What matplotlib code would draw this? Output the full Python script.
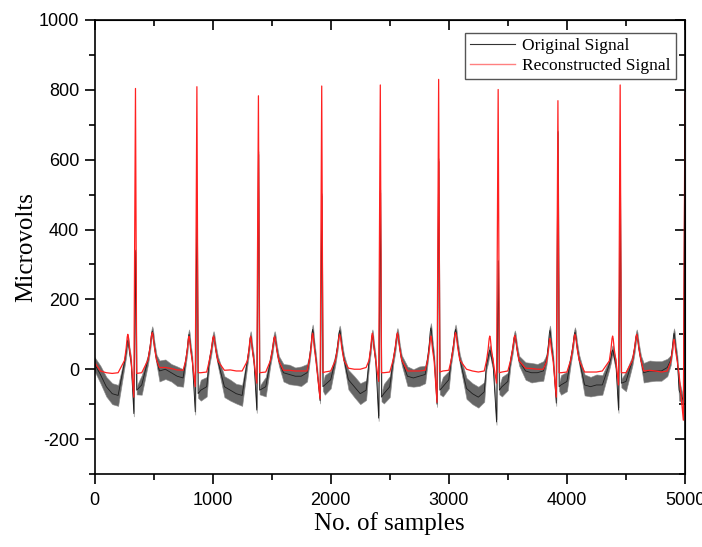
import numpy as np
import matplotlib.pyplot as plt
from matplotlib.lines import Line2D
from matplotlib.ticker import MultipleLocator

plt.rcParams['axes.unicode_minus'] = False

# ECG beats (sample index of each wave and its height in microvolts)
p_pos = [282, 800, 1322, 1847, 2353, 2848, 3347, 3856, 4387, 4907]
r_pos = [347, 867, 1388, 1924, 2420, 2914, 3418, 3924, 4451, 5000]
t_pos = [489, 1008, 1525, 2076, 2565, 3057, 3559, 4068, 4591]

red_p = [100, 94, 94, 103, 103, 95, 95, 88, 95, 85]
red_q = [-80, -50, -40, -85, -35, -95, -40, -80, -45, -146]
red_r = [804, 809, 783, 811, 814, 830, 801, 769, 814, 790]
red_s = [-12, -10, -10, -10, -10, -8, -10, -10, -10]
red_t = [105, 95, 94, 100, 104, 105, 97, 100, 100]

black_p = [83, 100, 95, 114, 100, 118, 55, 111, 55, 103]
black_q = [-127, -122, -117, -90, -140, -100, -151, -97, -117, -90]
black_r = [340, 480, 620, 500, 510, 600, 310, 680, 500, 790]
black_s = [-60, -70, -60, -50, -80, -60, -60, -50, -40]
black_t = [109, 95, 95, 111, 104, 114, 97, 106, 100]

# baseline between the waves, every 50 samples
base_x = np.arange(0, 5001, 50)
black_base = [15, -15, -50, -70, -75, -55, -40, -60, -45, -30,
              -20, -5, 0, -10, -20, -25, -30, -50, -60, -50,
              -40, -45, -50, -60, -70, -75, -60, -50, -50, -50,
              -20, -10, -10, -15, -20, -20, -10, -20, -40, -45,
              -30, -20, -20, -30, -50, -70, -60, -60, -60, -70,
              -50, -30, -25, -20, -25, -20, -15, -20, -40, -50,
              -30, -40, -45, -55, -70, -80, -65, -60, -60, -50,
              -35, -20, -10, -5, -10, -10, -5, -20, -40, -45,
              -35, -30, -40, -45, -50, -45, -45, -30, -30, -30,
              -35, -15, -10, -10, -5, -5, -5, 5, 0, -60, 0]
# half-width of the noise on the original signal at the same samples
black_spread = [20, 25, 28, 30, 30, 25, 25, 25, 28, 25,
                28, 30, 28, 25, 28, 25, 25, 25, 30, 28,
                25, 28, 30, 30, 28, 30, 25, 25, 25, 28,
                25, 28, 25, 28, 25, 28, 25, 25, 28, 28,
                25, 25, 25, 28, 30, 30, 28, 25, 25, 28,
                30, 25, 25, 28, 25, 28, 25, 25, 28, 28,
                25, 25, 28, 30, 30, 30, 28, 25, 25, 28,
                25, 28, 28, 25, 28, 25, 28, 25, 25, 28,
                28, 25, 28, 30, 28, 30, 28, 25, 25, 25,
                28, 28, 30, 28, 30, 28, 28, 25, 25, 30, 10]
red_base = [20, -5, -10, -12, -10, -5, -5, -10, -10, -8,
            0, 5, 5, 2, -2, -3, -5, -10, -10, -8,
            -5, -5, -3, -2, -5, -5, -5, -8, -8, -8,
            -5, -5, -3, -3, -5, -5, -5, -8, -8, -8,
            -5, -5, -5, 3, 0, 0, 5, -10, -10, -10,
            -8, -8, -8, -5, -5, -5, -3, -5, -5, -5,
            -3, -3, -3, 0, -5, -8, -5, -8, -8, -8,
            -5, -5, -5, 3, 2, 0, 0, -10, -10, -10,
            -8, -8, -8, -8, -8, -8, -5, -3, -10, -10,
            -10, -8, -8, -5, -3, -5, -8, -5, -5, -15, 0]

# wave shape used for P and T bumps
bump_dx = [-28, -14, -5, 0, 5, 14, 28]
bump_frac = [0.25, 0.6, 0.92, 1.0, 0.92, 0.6, 0.25]


def trace(base, spread, p_h, q_v, r_v, s_v, t_h):
    pts = []
    for x, y, n in zip(base_x, base, spread):
        near = any(abs(x - c) <= 40 for c in p_pos) or any(abs(x - c) <= 45 for c in t_pos) \
            or any(-30 <= x - c <= 20 for c in r_pos)
        if not near:
            pts.append((x, y, n))
    for i, c in enumerate(p_pos):
        pts += [(c + d, f * p_h[i], 14) for d, f in zip(bump_dx, bump_frac)]
    for i, c in enumerate(t_pos):
        pts += [(c + 1.3 * d, f * t_h[i], 14) for d, f in zip(bump_dx, bump_frac)]
    for i, c in enumerate(r_pos):
        pts += [(c - 14, q_v[i], 8), (c, r_v[i], 4)]
        if i < len(s_v):
            pts.append((c + 10, s_v[i], 12))
    pts.sort()
    a = np.array(pts, dtype=float)
    return a[:, 0], a[:, 1], a[:, 2]


bx, by, bn = trace(black_base, black_spread, black_p, black_q, black_r, black_s, black_t)
rx, ry, _ = trace(red_base, black_spread, red_p, red_q, red_r, red_s, red_t)

fig = plt.figure(figsize=(7.02, 5.47), dpi=100)
ax = fig.add_axes([94.5 / 702, 1 - 474 / 547, 590.5 / 702, 454 / 547])

ax.fill_between(bx, by - bn, by + bn, color='#404040', alpha=0.8, lw=0.5, edgecolor='#888888')
ax.plot(bx, by, color='#1e1e1e', lw=0.6)
ax.plot(rx, ry, color='#ff2020', lw=0.9)

ax.set_xlim(0, 5000)
ax.set_ylim(-300, 1000)
ax.xaxis.set_major_locator(MultipleLocator(1000))
ax.xaxis.set_minor_locator(MultipleLocator(500))
ax.yaxis.set_major_locator(MultipleLocator(200))
ax.yaxis.set_minor_locator(MultipleLocator(100))

ax.tick_params(which='both', direction='out', width=1.2)
ax.tick_params(which='major', length=7)
ax.tick_params(which='minor', length=4)
ax.tick_params(axis='x', which='both', labelsize=13, pad=6)
ax.tick_params(axis='y', which='both', labelsize=13, pad=4)
for sp in ax.spines.values():
    sp.set_linewidth(1.2)

# top and right ticks point inward
sec_x = ax.secondary_xaxis('top')
sec_x.xaxis.set_major_locator(MultipleLocator(1000))
sec_x.xaxis.set_minor_locator(MultipleLocator(500))
sec_x.tick_params(which='both', direction='in', width=1.2, labeltop=False)
sec_x.tick_params(which='major', length=7)
sec_x.tick_params(which='minor', length=4)
sec_y = ax.secondary_yaxis('right')
sec_y.yaxis.set_major_locator(MultipleLocator(200))
sec_y.yaxis.set_minor_locator(MultipleLocator(100))
sec_y.tick_params(which='both', direction='in', width=1.2, labelright=False)
sec_y.tick_params(which='major', length=7)
sec_y.tick_params(which='minor', length=4)

for lab in ax.get_xticklabels() + ax.get_yticklabels():
    lab.set_fontfamily('Liberation Sans')

ax.set_xlabel('No. of samples', family='Liberation Serif', fontsize=18, labelpad=2)
ax.set_ylabel('Microvolts', family='Liberation Serif', fontsize=18, labelpad=1)

handles = [Line2D([], [], color='#333333', lw=0.8),
           Line2D([], [], color='#ff8080', lw=1.0)]
ax.legend(handles, ['Original Signal', 'Reconstructed Signal'], loc='upper right',
          bbox_to_anchor=(0.985, 0.972), prop={'family': 'Liberation Serif', 'size': 12.5},
          fancybox=False, edgecolor='#555555', framealpha=1, handlelength=2.6,
          handletextpad=0.4, borderpad=0.3, labelspacing=0.2, borderaxespad=0)

fig.savefig('out.png', dpi=100)
